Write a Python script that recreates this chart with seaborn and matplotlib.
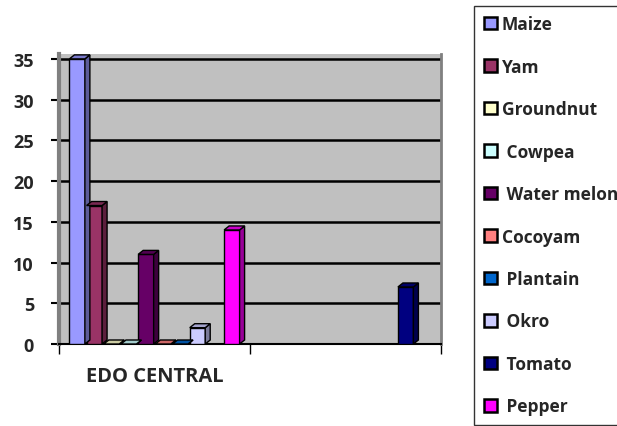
import numpy as np
import pandas as pd
import matplotlib
matplotlib.use("Agg")
import matplotlib.pyplot as plt
from matplotlib.patches import Polygon, Patch
import seaborn as sns

# ---- data ----
regions = ["EDO CENTRAL", " "]
crops = ["Maize", "Yam", "Groundnut", " Cowpea", " Water melon", "Cocoyam",
         " Plantain", " Okro", " Tomato", " Pepper"]
edo_central = [35, 17, 0, 0, 11, 0, 0, 2, None, 14]
second_region = [None, None, None, None, None, None, None, None, 7, None]
colors = ["#9999FF", "#993366", "#FFFFCC", "#CCFFFF", "#660066", "#FF8080",
          "#0066CC", "#CCCCFF", "#000080", "#FF00FF"]
yticks = [0, 5, 10, 15, 20, 25, 30, 35]

rows = []
for reg, vals in zip(regions, [edo_central, second_region]):
    for crop, v in zip(crops, vals):
        if v is not None:
            rows.append({"region": reg, "crop": crop, "value": v})
df = pd.DataFrame(rows)

sns.set_theme(style="white")
plt.rcParams["font.family"] = ["Open Sans", "DejaVu Sans"]

W, H = 617, 427
fig = plt.figure(figsize=(W / 100, H / 100), dpi=100)
ax_l, ax_b, ax_w, ax_h = 59, 345, 382, 290
ax = fig.add_axes([ax_l / W, 1 - ax_b / H, ax_w / W, ax_h / H])

sns.barplot(data=df, x="region", y="value", hue="crop", order=regions,
            hue_order=crops, palette=colors, width=0.9, gap=0.1,
            saturation=1, edgecolor="black", linewidth=1, errorbar=None,
            legend=False, ax=ax, zorder=3)

ymax = 35.6
ax.set_xlim(-0.5, 1.5)
ax.set_ylim(0, ymax)

# 3D side and top faces derived from the drawn bars
dx = 5 / (ax_w / 2.0)
dy = 4 / (ax_h / ymax)
for p in list(ax.patches):
    x0, w, h = p.get_x(), p.get_width(), p.get_height()
    fc = np.array(p.get_facecolor()[:3])
    side = Polygon([(x0 + w, 0), (x0 + w + dx, dy), (x0 + w + dx, h + dy), (x0 + w, h)],
                   closed=True, facecolor=fc * 0.6, edgecolor="black", lw=1,
                   zorder=3, clip_on=False)
    top = Polygon([(x0, h), (x0 + dx, h + dy), (x0 + w + dx, h + dy), (x0 + w, h)],
                  closed=True, facecolor=fc * 0.8, edgecolor="black", lw=1,
                  zorder=3, clip_on=False)
    ax.add_patch(side)
    ax.add_patch(top)

ax.set_facecolor("#C0C0C0")
ax.set_axisbelow(True)
ax.yaxis.grid(True, color="black", lw=1.8)
ax.xaxis.grid(False)
ax.set_yticks(yticks)
ax.set_yticklabels([str(t) for t in yticks], fontsize=13, fontweight="bold")
ax.tick_params(axis="y", length=6, width=1.5, pad=12, color="black", left=True)
ax.set_xticks([0, 1])
ax.set_xticklabels(regions, fontsize=14.5, fontweight="bold")
ax.set_xticks([-0.5, 0.5, 1.5], minor=True)
ax.tick_params(axis="x", which="major", length=0, pad=16)
ax.tick_params(axis="x", which="minor", length=7, width=1, color="black", bottom=True)
ax.set_xlabel("")
ax.set_ylabel("")

ax.spines["top"].set_visible(False)
ax.spines["left"].set_color("#808080")
ax.spines["left"].set_linewidth(3)
ax.spines["right"].set_color("#808080")
ax.spines["right"].set_linewidth(2)
ax.spines["bottom"].set_color("black")
ax.spines["bottom"].set_linewidth(1.5)

handles = [Patch(facecolor=c, edgecolor="black", linewidth=1.8) for c in colors]
leg = fig.legend(handles, crops, loc="upper left", mode="expand",
                 bbox_to_anchor=(474 / W, 1 - 7 / H, 230 / W, 0.001), frameon=True,
                 fancybox=False, edgecolor="black",
                 prop={"weight": "bold", "size": 12.5}, labelspacing=1.41,
                 handlelength=0.75, handleheight=0.75, handletextpad=0.3,
                 borderpad=0.55, borderaxespad=0)
leg.get_frame().set_linewidth(1)

fig.savefig("out.png", dpi=100)
